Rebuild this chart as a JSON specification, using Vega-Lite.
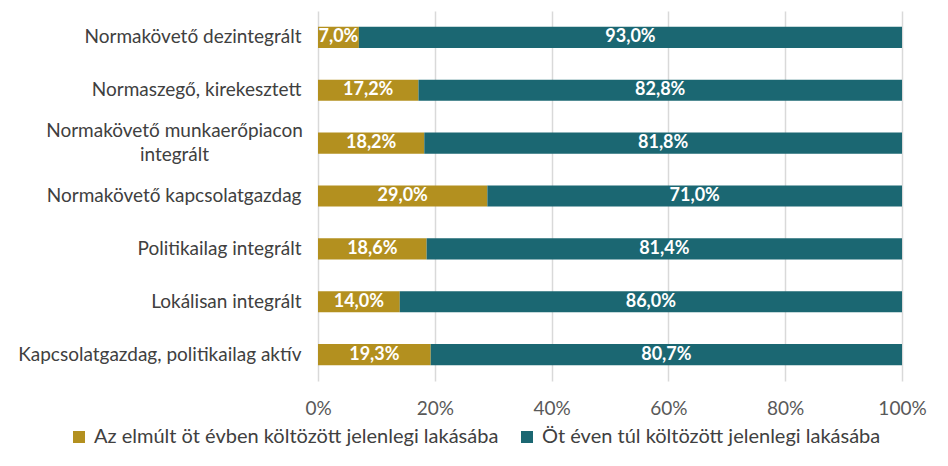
{
  "$schema": "https://vega.github.io/schema/vega-lite/v6.json",
  "width": 584,
  "height": 370,
  "autosize": "none",
  "padding": {"left": 318, "top": 11, "right": 46, "bottom": 85},
  "background": "white",
  "config": {
    "locale": {"number": {"decimal": ",", "thousands": " ", "grouping": [3], "currency": ["", ""]}},
    "font": "Lato",
    "view": {"stroke": null}
  },
  "data": {"values": [
    {"category": "Normakövető dezintegrált", "series": "Az elmúlt öt évben költözött jelenlegi lakásába", "value": 0.070},
    {"category": "Normakövető dezintegrált", "series": "Öt éven túl költözött jelenlegi lakásába", "value": 0.930},
    {"category": "Normaszegő, kirekesztett", "series": "Az elmúlt öt évben költözött jelenlegi lakásába", "value": 0.172},
    {"category": "Normaszegő, kirekesztett", "series": "Öt éven túl költözött jelenlegi lakásába", "value": 0.828},
    {"category": "Normakövető munkaerőpiacon integrált", "series": "Az elmúlt öt évben költözött jelenlegi lakásába", "value": 0.182},
    {"category": "Normakövető munkaerőpiacon integrált", "series": "Öt éven túl költözött jelenlegi lakásába", "value": 0.818},
    {"category": "Normakövető kapcsolatgazdag", "series": "Az elmúlt öt évben költözött jelenlegi lakásába", "value": 0.290},
    {"category": "Normakövető kapcsolatgazdag", "series": "Öt éven túl költözött jelenlegi lakásába", "value": 0.710},
    {"category": "Politikailag integrált", "series": "Az elmúlt öt évben költözött jelenlegi lakásába", "value": 0.186},
    {"category": "Politikailag integrált", "series": "Öt éven túl költözött jelenlegi lakásába", "value": 0.814},
    {"category": "Lokálisan integrált", "series": "Az elmúlt öt évben költözött jelenlegi lakásába", "value": 0.140},
    {"category": "Lokálisan integrált", "series": "Öt éven túl költözött jelenlegi lakásába", "value": 0.860},
    {"category": "Kapcsolatgazdag, politikailag aktív", "series": "Az elmúlt öt évben költözött jelenlegi lakásába", "value": 0.193},
    {"category": "Kapcsolatgazdag, politikailag aktív", "series": "Öt éven túl költözött jelenlegi lakásába", "value": 0.807}
  ]},
  "encoding": {
    "y": {
      "field": "category",
      "type": "nominal",
      "sort": null,
      "title": null,
      "scale": {"paddingInner": 0.6, "paddingOuter": 0.3},
      "axis": {
        "domain": false,
        "ticks": false,
        "labelFontSize": 19,
        "labelColor": "#404040",
        "labelLimit": 400,
        "labelLineHeight": 24,
        "labelAlign": {"condition": {"test": "datum.label == 'Normakövető munkaerőpiacon integrált'", "value": "center"}, "value": "right"},
        "labelPadding": {"condition": {"test": "datum.label == 'Normakövető munkaerőpiacon integrált'", "value": 144}, "value": 17},
        "labelOffset": {"condition": {"test": "datum.label == 'Normakövető munkaerőpiacon integrált'", "value": -12}, "value": 0},
        "labelExpr": "datum.label == 'Normakövető munkaerőpiacon integrált' ? ['Normakövető munkaerőpiacon', 'integrált'] : datum.label"
      }
    }
  },
  "layer": [
    {
      "mark": {"type": "bar"},
      "encoding": {
        "x": {
          "field": "value",
          "type": "quantitative",
          "stack": "zero",
          "title": null,
          "scale": {"domain": [0, 1], "nice": false},
          "axis": {
            "format": ".0%",
            "values": [0, 0.2, 0.4, 0.6, 0.8, 1],
            "domain": false,
            "ticks": false,
            "grid": true,
            "gridColor": "#D9D9D9",
            "gridWidth": 1.5,
            "labelFontSize": 19,
            "labelColor": "#595959",
            "labelPadding": 18,
            "labelFlush": false
          }
        },
        "color": {
          "field": "series",
          "type": "nominal",
          "scale": {
            "domain": ["Az elmúlt öt évben költözött jelenlegi lakásába", "Öt éven túl költözött jelenlegi lakásába"],
            "range": ["#B3901F", "#1B6772"]
          },
          "legend": {
            "title": null,
            "orient": "none",
            "direction": "horizontal",
            "legendX": -249,
            "legendY": 416,
            "symbolType": "square",
            "symbolSize": 144,
            "symbolStrokeWidth": 0,
            "labelFontSize": 20,
            "labelColor": "#404040",
            "labelOffset": 5,
            "columnPadding": 18,
            "labelLimit": 500
          }
        }
      }
    },
    {
      "mark": {"type": "text", "color": "white", "fontWeight": "bold", "fontSize": 18},
      "encoding": {
        "x": {"field": "value", "type": "quantitative", "stack": "zero", "bandPosition": 0.5},
        "detail": {"field": "series"},
        "text": {"field": "value", "type": "quantitative", "format": ".1%"}
      }
    }
  ]
}
